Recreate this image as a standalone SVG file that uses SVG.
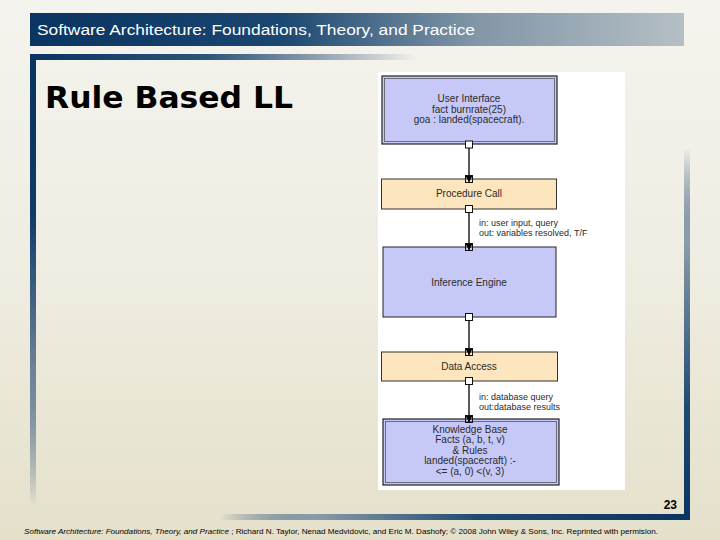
<svg xmlns="http://www.w3.org/2000/svg" width="720" height="540" viewBox="0 0 720 540">
  <defs>
    <linearGradient id="bg" x1="0" y1="0" x2="0" y2="1">
      <stop offset="0" stop-color="#f4f3ed"/>
      <stop offset="0.5" stop-color="#efede2"/>
      <stop offset="1" stop-color="#e4e0ca"/>
    </linearGradient>
    <linearGradient id="hdr" x1="0" y1="0" x2="1" y2="0">
      <stop offset="0" stop-color="#0a3461"/>
      <stop offset="0.38" stop-color="#1a4670"/>
      <stop offset="0.68" stop-color="#8196a7"/>
      <stop offset="1" stop-color="#b5bfc5"/>
    </linearGradient>
    <linearGradient id="hbar" x1="0" y1="0" x2="1" y2="0">
      <stop offset="0" stop-color="#0a3461"/>
      <stop offset="0.45" stop-color="#2a5478"/>
      <stop offset="1" stop-color="#0a3461" stop-opacity="0"/>
    </linearGradient>
    <linearGradient id="vbarL" x1="0" y1="0" x2="0" y2="1">
      <stop offset="0" stop-color="#0a3461"/>
      <stop offset="0.35" stop-color="#0e3a66"/>
      <stop offset="0.7" stop-color="#6d8398"/>
      <stop offset="1" stop-color="#0a3461" stop-opacity="0"/>
    </linearGradient>
    <linearGradient id="vbarR" x1="0" y1="0" x2="0" y2="1">
      <stop offset="0" stop-color="#0a3461" stop-opacity="0"/>
      <stop offset="0.25" stop-color="#8a9caa"/>
      <stop offset="0.7" stop-color="#1d4a72"/>
      <stop offset="1" stop-color="#0a3461"/>
    </linearGradient>
    <linearGradient id="bbar" x1="0" y1="0" x2="1" y2="0">
      <stop offset="0" stop-color="#0a3461" stop-opacity="0"/>
      <stop offset="0.2" stop-color="#8a9caa"/>
      <stop offset="0.55" stop-color="#1d4a72"/>
      <stop offset="1" stop-color="#0a3461"/>
    </linearGradient>
    <marker id="arr" markerUnits="userSpaceOnUse" markerWidth="7" markerHeight="7" refX="6" refY="3.5" orient="auto">
      <path d="M0,0 L6,3.5 L0,7 z" fill="#000"/>
    </marker>
    <style>
      .dtext { font-family: "Liberation Sans", Arial, sans-serif; font-size: 10px; fill: #2a2a2a; text-anchor: middle; }
      .ltext { font-family: "Liberation Sans", Arial, sans-serif; font-size: 9px; fill: #2a2a2a; }
      .blue { fill: #c6c9f8; stroke: #222; stroke-width: 1.2; }
      .blueIn { fill: none; stroke: #555; stroke-width: 0.8; }
      .peach { fill: #fde6bd; stroke: #333; stroke-width: 1; }
      .port { fill: #fff; stroke: #111; stroke-width: 1; }
      .portIn { fill: none; stroke: #111; stroke-width: 1; }
      .conn { stroke: #000; stroke-width: 1.3; fill: none; }
    </style>
  </defs>

  <!-- background -->
  <rect x="0" y="0" width="720" height="540" fill="url(#bg)"/>

  <!-- header -->
  <rect x="30" y="13" width="654" height="33" fill="url(#hdr)"/>
  <text x="37" y="35" font-family="'Liberation Sans', Arial, sans-serif" font-size="15.5" fill="#ffffff" textLength="438" lengthAdjust="spacingAndGlyphs">Software Architecture: Foundations, Theory, and Practice</text>

  <!-- frame bars -->
  <rect x="30" y="54" width="386" height="6" fill="url(#hbar)"/>
  <rect x="30" y="54" width="6" height="452" fill="url(#vbarL)"/>
  <rect x="684" y="148" width="6" height="372" fill="url(#vbarR)"/>
  <rect x="220" y="514" width="470" height="6" fill="url(#bbar)"/>

  <!-- title -->
  <text x="45" y="108" font-family="'DejaVu Sans', Verdana, sans-serif" font-weight="bold" font-size="30" fill="#000" textLength="248" lengthAdjust="spacingAndGlyphs">Rule Based LL</text>

  <!-- diagram canvas -->
  <rect x="378" y="72" width="247" height="418" fill="#ffffff"/>

  <!-- nodes -->
  <g id="user-interface">
    <rect class="blue" x="382" y="76" width="175" height="68"/>
    <rect class="blueIn" x="384.5" y="78.5" width="170" height="63"/>
    <text class="dtext" x="469" y="102">User Interface</text>
    <text class="dtext" x="469" y="112.5">fact burnrate(25)</text>
    <text class="dtext" x="469" y="123">goa : landed(spacecraft).</text>
  </g>

  <g id="procedure-call">
    <rect class="peach" x="381.5" y="179" width="175" height="30"/>
    <text class="dtext" x="469" y="197">Procedure Call</text>
  </g>

  <g id="inference-engine">
    <rect class="blue" x="383" y="247" width="173" height="70" style="stroke-width:1"/>
    <text class="dtext" x="469" y="286">Inference Engine</text>
  </g>

  <g id="data-access">
    <rect class="peach" x="381.5" y="352" width="176" height="29"/>
    <text class="dtext" x="469" y="370">Data Access</text>
  </g>

  <g id="knowledge-base">
    <rect class="blue" x="383" y="419" width="176" height="66"/>
    <rect class="blueIn" x="385.5" y="421.5" width="171" height="61"/>
    <text class="dtext" x="470" y="432.5">Knowledge Base</text>
    <text class="dtext" x="470" y="443">Facts (a, b, t, v)</text>
    <text class="dtext" x="470" y="453.5">&amp; Rules</text>
    <text class="dtext" x="470" y="464">landed(spacecraft) :-</text>
    <text class="dtext" x="470" y="474.5">&lt;= (a, 0) &lt;(v, 3)</text>
  </g>

  <!-- connectors -->
  <g id="connectors">
    <rect class="port" x="465.5" y="141" width="7" height="7"/>
    <line class="conn" x1="469" y1="148" x2="469" y2="182" marker-end="url(#arr)"/>
    <rect class="portIn" x="465.5" y="175.5" width="7" height="7"/>

    <rect class="port" x="465.5" y="205.5" width="7" height="7"/>
    <line class="conn" x1="469" y1="212.5" x2="469" y2="250" marker-end="url(#arr)"/>
    <rect class="portIn" x="465.5" y="243.5" width="7" height="7"/>

    <rect class="port" x="465.5" y="313.5" width="7" height="7"/>
    <line class="conn" x1="469" y1="320.5" x2="469" y2="355" marker-end="url(#arr)"/>
    <rect class="portIn" x="465.5" y="348.5" width="7" height="7"/>

    <rect class="port" x="465.5" y="377.5" width="7" height="7"/>
    <line class="conn" x1="469" y1="384.5" x2="469" y2="422" marker-end="url(#arr)"/>
    <rect class="portIn" x="465.5" y="415.5" width="7" height="7"/>
  </g>

  <!-- connector labels -->
  <g id="connector-labels">
    <text class="ltext" x="479" y="225.5">in: user input, query</text>
    <text class="ltext" x="479" y="235.5">out: variables resolved, T/F</text>
    <text class="ltext" x="479" y="399.5">in: database query</text>
    <text class="ltext" x="479" y="409.5">out:database results</text>
  </g>

  <!-- slide number & footer -->
  <text x="677" y="509" text-anchor="end" font-family="'Liberation Sans', Arial, sans-serif" font-weight="bold" font-size="12" fill="#000">23</text>
  <text x="24" y="534" font-family="'Liberation Sans', Arial, sans-serif" font-size="7.5" fill="#000" textLength="634" lengthAdjust="spacingAndGlyphs"><tspan font-style="italic">Software Architecture: Foundations, Theory, and Practice</tspan> ; Richard N. Taylor, Nenad Medvidovic, and Eric M. Dashofy; © 2008 John Wiley &amp; Sons, Inc. Reprinted with permision.</text>
</svg>
